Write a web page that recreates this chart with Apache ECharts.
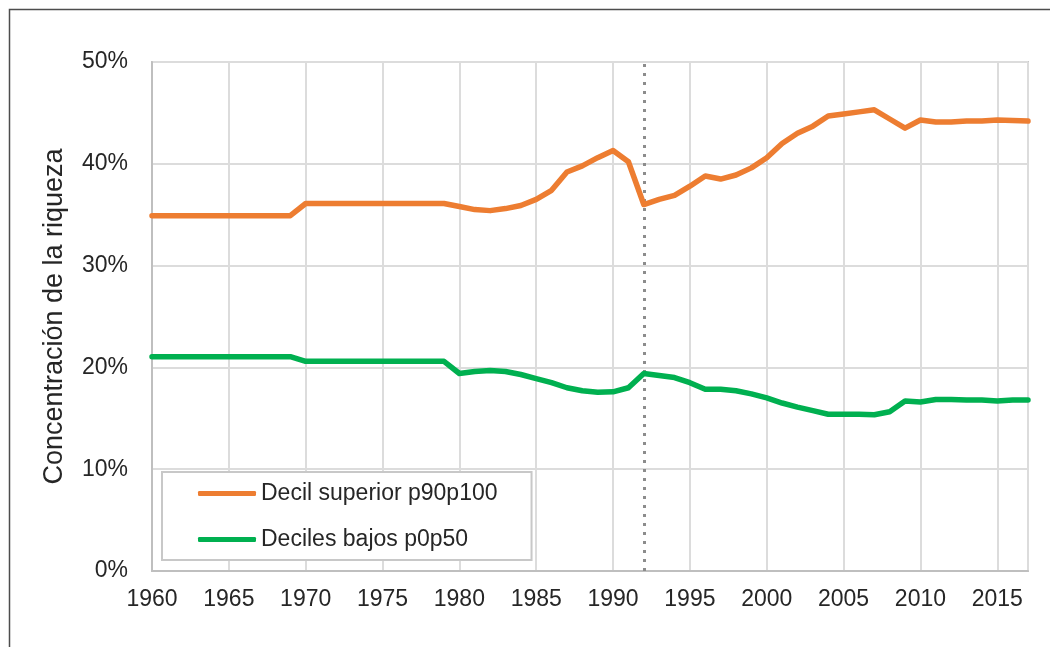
<!DOCTYPE html>
<html>
<head>
<meta charset="utf-8">
<script src="https://cdn.jsdelivr.net/npm/echarts@6/dist/echarts.min.js"></script>
<style>
  html, body { margin: 0; padding: 0; background: #fff; }
  #chart { width: 1050px; height: 647px; }
</style>
</head>
<body>
<div id="chart"></div>
<script>
const years = [];
for (let y = 1960; y <= 2017; y++) years.push(y);

const topDecile = [
  34.9, 34.9, 34.9, 34.9, 34.9, 34.9, 34.9, 34.9, 34.9, 34.9,
  36.1, 36.1, 36.1, 36.1, 36.1, 36.1, 36.1, 36.1, 36.1, 36.1,
  35.8, 35.5, 35.4, 35.6, 35.9, 36.5, 37.4, 39.2, 39.8, 40.6,
  41.3, 40.2, 36.0, 36.5, 36.9, 37.8, 38.8, 38.5, 38.9, 39.6,
  40.6, 42.0, 43.0, 43.7, 44.7, 44.9, 45.1, 45.3, 44.4, 43.5,
  44.3, 44.1, 44.1, 44.2, 44.2, 44.3, 44.25, 44.2
];
const bottomHalf = [
  21.05, 21.05, 21.05, 21.05, 21.05, 21.05, 21.05, 21.05, 21.05, 21.05,
  20.6, 20.6, 20.6, 20.6, 20.6, 20.6, 20.6, 20.6, 20.6, 20.6,
  19.4, 19.6, 19.7, 19.6, 19.3, 18.9, 18.5, 18.0, 17.7, 17.55,
  17.6, 18.0, 19.4, 19.2, 19.0, 18.5, 17.85, 17.85, 17.7, 17.4,
  17.0, 16.5, 16.1, 15.75, 15.4, 15.4, 15.4, 15.35, 15.65, 16.7,
  16.6, 16.85, 16.85, 16.8, 16.8, 16.7, 16.8, 16.8
];
const seriesNames = ['Decil superior p90p100', 'Deciles bajos p0p50'];
const seriesColors = ['#ED7D31', '#00B050'];
const markYear = 1992;
const yAxisTitle = 'Concentración de la riqueza';

const font = 'Liberation Sans, Arial, sans-serif';
const textColor = '#262626';

const chart = echarts.init(document.getElementById('chart'), null, { renderer: 'canvas' });

chart.setOption({
  animation: false,
  backgroundColor: '#ffffff',
  graphic: [{
    type: 'rect',
    left: 7, top: 7,
    shape: { width: 1200, height: 800 },
    style: { fill: 'none', stroke: '#4d4d4d', lineWidth: 1.5 },
    silent: true,
    z: 0
  }],
  grid: {
    left: 152, right: 22, top: 62, bottom: 76,
    show: true, borderColor: '#c8c8c8', borderWidth: 2, backgroundColor: 'transparent'
  },
  legend: {
    orient: 'vertical',
    left: 162, top: 472,
    data: seriesNames,
    icon: 'roundRect',
    itemWidth: 58, itemHeight: 5,
    itemGap: 23,
    padding: [10, 34, 9, 36],
    backgroundColor: '#ffffff',
    borderColor: '#c8c8c8',
    borderWidth: 2,
    borderRadius: 0,
    textStyle: { fontFamily: font, fontSize: 23, color: textColor, padding: [0, 0, 0, 0] }
  },
  xAxis: {
    type: 'value',
    min: 1960, max: 2017, interval: 5,
    axisLine: { show: true, lineStyle: { color: '#bfbfbf', width: 2 } },
    axisTick: { show: false },
    splitLine: { show: true, lineStyle: { color: '#dcdcdc', width: 2 } },
    axisLabel: {
      fontFamily: font, fontSize: 23, color: textColor, margin: 17,
      formatter: v => (v % 5 === 0 ? String(v) : '')
    }
  },
  yAxis: {
    type: 'value',
    min: 0, max: 50, interval: 10,
    name: yAxisTitle,
    nameLocation: 'middle',
    nameGap: 84,
    nameTextStyle: { fontFamily: font, fontSize: 27, color: textColor },
    axisLine: { show: true, lineStyle: { color: '#bfbfbf', width: 2 } },
    axisTick: { show: false },
    splitLine: { show: true, lineStyle: { color: '#dcdcdc', width: 2 } },
    axisLabel: {
      fontFamily: font, fontSize: 23, color: textColor, margin: 24,
      formatter: '{value}%'
    }
  },
  series: [
    {
      name: seriesNames[0],
      type: 'line',
      symbol: 'none',
      data: years.map((y, i) => [y, topDecile[i]]),
      lineStyle: { color: seriesColors[0], width: 5.5, join: 'round', cap: 'round' },
      itemStyle: { color: seriesColors[0] },
      z: 3,
      markLine: {
        silent: true,
        symbol: 'none',
        label: { show: false },
        lineStyle: { color: '#8c8c8c', width: 3, type: [3, 6] },
        data: [{ xAxis: markYear }],
        z: 2
      }
    },
    {
      name: seriesNames[1],
      type: 'line',
      symbol: 'none',
      data: years.map((y, i) => [y, bottomHalf[i]]),
      lineStyle: { color: seriesColors[1], width: 5.5, join: 'round', cap: 'round' },
      itemStyle: { color: seriesColors[1] },
      z: 3
    }
  ]
});
</script>
</body>
</html>
